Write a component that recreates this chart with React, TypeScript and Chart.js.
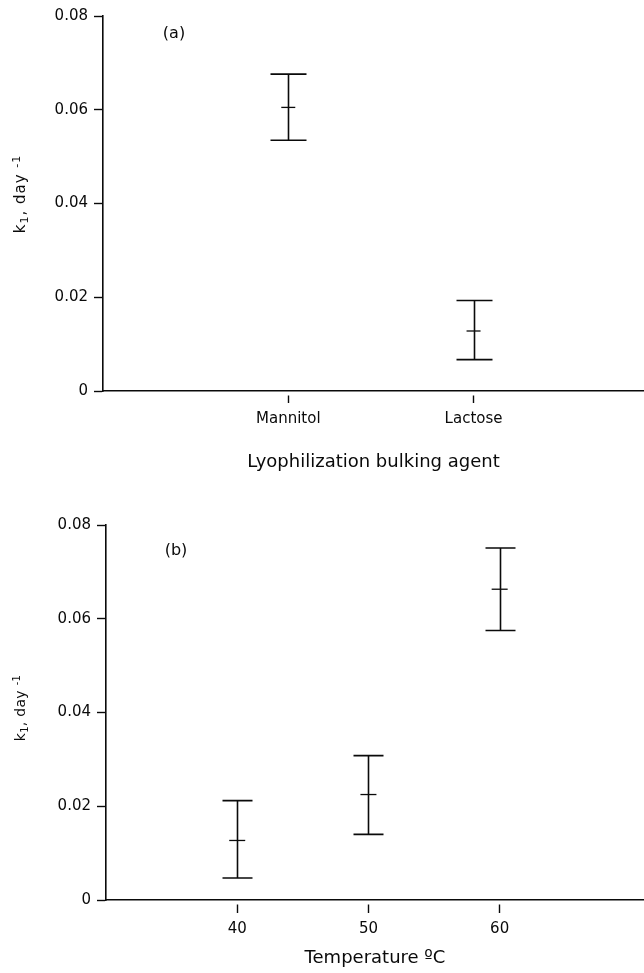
import React, { useEffect, useRef } from 'react';
import { Chart, registerables } from 'chart.js';

Chart.register(...registerables);

// ---- data ----
const agentLabels = ['Mannitol', 'Lactose'];
const agentPositions = [1, 2];
const agentMean = [0.0605, 0.0128];
const agentLow = [0.0535, 0.0067];
const agentHigh = [0.0676, 0.0193];

const temperatureLabels = ['40', '50', '60'];
const temperatures = [40, 50, 60];
const tempMean = [0.0127, 0.0225, 0.0663];
const tempLow = [0.0047, 0.014, 0.0575];
const tempHigh = [0.0212, 0.0308, 0.0751];

const yTickValues = [0, 0.02, 0.04, 0.06, 0.08];
const yTickLabels = ['0', '0.02', '0.04', '0.06', '0.08'];

const INK = '#0a0a0a';
const FONT = '"DejaVu Sans", Arial, sans-serif';

type Panel = {
  top: number;
  height: number;
  letter: string;
  xTitle: string;
  xMin: number;
  xMax: number;
  xTicks: number[];
  xTickLabels: string[];
  xs: number[];
  mean: number[];
  low: number[];
  high: number[];
  chartTop: number;
  yAxisWidth: number;
  xAxisHeight: number;
  xTitlePad: number;
  capHalf: number;
  meanHalf: number;
  tickGap: number;
  tickLen: number;
  letterDx: number;
  letterDy: number;
  yTitleX: number;
  yTitleY: number;
  yTitleSize: number;
  yTitleSpacing: number;
};

const panels: Panel[] = [
  {
    top: 0,
    height: 486,
    letter: '(a)',
    xTitle: 'Lyophilization bulking agent',
    xMin: 0,
    xMax: 2.92,
    xTicks: agentPositions,
    xTickLabels: agentLabels,
    xs: agentPositions,
    mean: agentMean,
    low: agentLow,
    high: agentHigh,
    chartTop: 16,
    yAxisWidth: 103,
    xAxisHeight: 95,
    xTitlePad: 13,
    capHalf: 18,
    meanHalf: 7,
    tickGap: 4,
    tickLen: 12,
    letterDx: 71,
    letterDy: 18,
    yTitleX: 25,
    yTitleY: 194,
    yTitleSize: 15,
    yTitleSpacing: 1,
  },
  {
    top: 486,
    height: 487,
    letter: '(b)',
    xTitle: 'Temperature ºC',
    xMin: 30,
    xMax: 71,
    xTicks: temperatures,
    xTickLabels: temperatureLabels,
    xs: temperatures,
    mean: tempMean,
    low: tempLow,
    high: tempHigh,
    chartTop: 39,
    yAxisWidth: 106,
    xAxisHeight: 73,
    xTitlePad: 4,
    capHalf: 15,
    meanHalf: 8,
    tickGap: 4,
    tickLen: 13,
    letterDx: 70,
    letterDy: 26,
    yTitleX: 25,
    yTitleY: 222,
    yTitleSize: 14,
    yTitleSpacing: 0.3,
  },
];

function makePlugin(p: Panel) {
  return {
    id: 'errorBarsAndLabels',
    afterDatasetsDraw(chart: any) {
      const { ctx, scales } = chart;
      const x = scales.x;
      const y = scales.y;
      ctx.save();
      ctx.strokeStyle = INK;
      ctx.lineWidth = 1.6;
      ctx.lineCap = 'butt';
      p.xs.forEach((xv, i) => {
        const px = Math.round(x.getPixelForValue(xv)) + 0.5;
        const pl = y.getPixelForValue(p.low[i]);
        const ph = y.getPixelForValue(p.high[i]);
        ctx.beginPath();
        ctx.moveTo(px, ph);
        ctx.lineTo(px, pl);
        ctx.moveTo(px - p.capHalf, ph);
        ctx.lineTo(px + p.capHalf, ph);
        ctx.moveTo(px - p.capHalf, pl);
        ctx.lineTo(px + p.capHalf, pl);
        ctx.stroke();
      });
      ctx.restore();
    },
    afterDraw(chart: any) {
      const { ctx, chartArea } = chart;
      ctx.save();
      ctx.fillStyle = INK;
      // panel letter
      ctx.font = `16px ${FONT}`;
      ctx.textAlign = 'center';
      ctx.textBaseline = 'middle';
      ctx.fillText(p.letter, chartArea.left + p.letterDx, chartArea.top + p.letterDy);
      // y axis title with subscript / superscript
      const big = `${p.yTitleSize}px ${FONT}`;
      const small = `${Math.round(p.yTitleSize * 0.7)}px ${FONT}`;
      const parts: [string, string, number][] = [
        ['k', big, 0],
        ['1', small, 3],
        [', day ', big, 0],
        ['-1', small, -5.5],
      ];
      const sp = p.yTitleSpacing;
      let total = 0;
      parts.forEach(([t, f]) => {
        ctx.font = f;
        total += ctx.measureText(t).width + sp * t.length;
      });
      ctx.translate(p.yTitleX, p.yTitleY);
      ctx.rotate(-Math.PI / 2);
      ctx.textAlign = 'left';
      ctx.textBaseline = 'alphabetic';
      let u = -total / 2;
      parts.forEach(([t, f, dv]) => {
        ctx.font = f;
        for (const ch of t) {
          ctx.fillText(ch, u, dv);
          u += ctx.measureText(ch).width + sp;
        }
      });
      ctx.restore();
    },
  };
}

function PanelChart({ p }: { p: Panel }) {
  const ref = useRef<HTMLCanvasElement | null>(null);
  useEffect(() => {
    if (!ref.current) return;
    const chart = new Chart(ref.current, {
      type: 'scatter',
      data: {
        datasets: [
          {
            data: p.xs.map((xv, i) => ({ x: xv, y: p.mean[i] })),
            pointStyle: 'line',
            pointRadius: p.meanHalf,
            pointHoverRadius: p.meanHalf,
            borderColor: INK,
            backgroundColor: INK,
            borderWidth: 1.3,
            showLine: false,
            clip: false,
          },
        ],
      },
      options: {
        responsive: false,
        animation: false,
        devicePixelRatio: 1,
        layout: { autoPadding: false, padding: { top: p.chartTop, left: 0, right: 0, bottom: 0 } },
        plugins: {
          legend: { display: false },
          tooltip: { enabled: false },
        },
        scales: {
          x: {
            type: 'linear',
            min: p.xMin,
            max: p.xMax,
            afterBuildTicks: (s: any) => {
              s.ticks = p.xTicks.map((v) => ({ value: v }));
            },
            afterFit: (s: any) => {
              s.height = p.xAxisHeight;
            },
            grid: {
              drawOnChartArea: false,
              drawTicks: true,
              tickLength: p.tickLen,
              tickColor: INK,
              tickWidth: 1.4,
              tickBorderDash: [0, p.tickGap, p.tickLen - p.tickGap, 100],
            },
            border: { display: true, color: INK, width: 1.6 },
            ticks: {
              autoSkip: false,
              maxRotation: 0,
              padding: 7,
              color: INK,
              font: { family: FONT, size: 15 },
              callback: (v: any) => {
                const i = p.xTicks.indexOf(Number(v));
                return i >= 0 ? p.xTickLabels[i] : '';
              },
            },
            title: {
              display: true,
              text: p.xTitle,
              color: INK,
              font: { family: FONT, size: 18 },
              padding: { top: 0, bottom: p.xTitlePad },
            },
          },
          y: {
            type: 'linear',
            min: 0,
            max: 0.08,
            afterBuildTicks: (s: any) => {
              s.ticks = yTickValues.map((v) => ({ value: v }));
            },
            afterFit: (s: any) => {
              s.width = p.yAxisWidth;
            },
            grid: {
              drawOnChartArea: false,
              drawTicks: true,
              tickLength: 9,
              tickColor: INK,
              tickWidth: 1.4,
            },
            border: { display: true, color: INK, width: 1.6 },
            ticks: {
              padding: 6,
              color: INK,
              font: { family: FONT, size: 15 },
              callback: (v: any) => {
                const i = yTickValues.indexOf(Number(v));
                return i >= 0 ? yTickLabels[i] : '';
              },
            },
          },
        },
      },
      plugins: [makePlugin(p)],
    } as any);
    return () => chart.destroy();
  }, [p]);
  return (
    <canvas
      ref={ref}
      width={644}
      height={p.height}
      style={{ position: 'absolute', left: 0, top: p.top, width: 644, height: p.height, display: 'block' }}
    />
  );
}

export default function App() {
  return (
    <div style={{ position: 'absolute', left: 0, top: 0, width: 644, height: 973, background: '#fff' }}>
      {panels.map((p) => (
        <PanelChart key={p.letter} p={p} />
      ))}
    </div>
  );
}
